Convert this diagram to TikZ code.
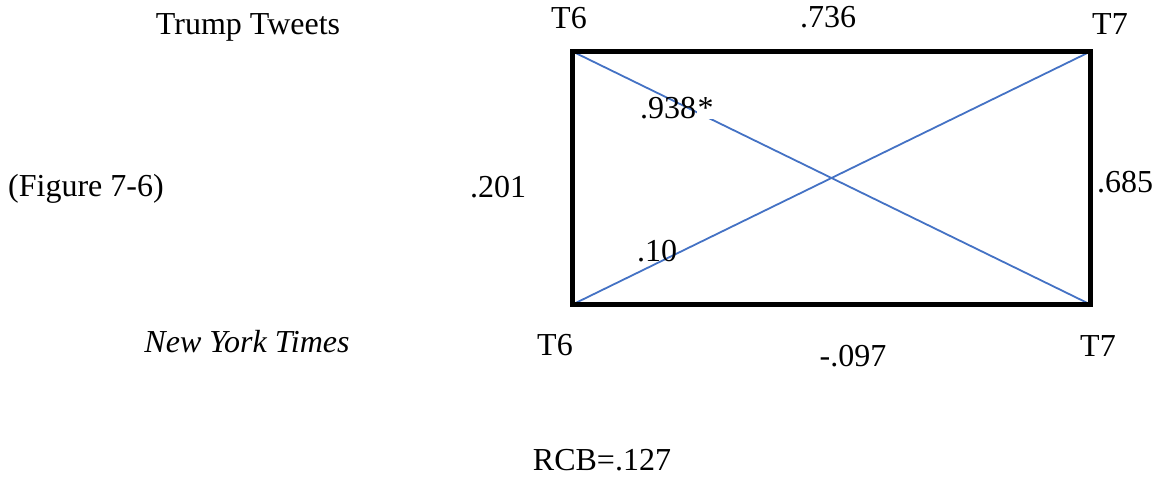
\documentclass[tikz,border=0pt]{standalone}
\usepackage{fontspec}
\setmainfont{Liberation Serif}
\definecolor{diagblue}{HTML}{4472C4}
\begin{document}
\begin{tikzpicture}[x=1pt,y=-1pt,
  lbl/.style={inner sep=0pt, anchor=base, font=\fontsize{32}{38}\selectfont},
  box/.style={draw=black, line width=5pt, line join=miter},
  diag/.style={draw=diagblue, line width=1.8pt}]
\useasboundingbox (0,0) rectangle (1168,486);
\coordinate (tl) at (572.5,51.5);
\coordinate (tr) at (1090.5,51.5);
\coordinate (bl) at (572.5,304.5);
\coordinate (br) at (1090.5,304.5);
\draw[diag] (tl) -- (br);
\draw[diag] (bl) -- (tr);
\draw[box] (tl) rectangle (br);
\node[lbl] (tt) at (248,35) {Trump Tweets};
\node[lbl] (t6a) at (569,29) {T6};
\node[lbl] (v736) at (828,28) {.736};
\node[lbl] (t7a) at (1110,35) {T7};
\node[lbl] (fig) at (86,197) {(Figure 7-6)};
\node[lbl] (v201) at (498,198) {.201};
\node[lbl, anchor=base west] (v685) at (1097,193) {.685};
\node[lbl, anchor=base west] (v938) at (640,119) {.938};
\node[lbl, anchor=base west, fill=white, inner xsep=1pt] (star) at (v938.base east) {*};
\node[lbl] (v10) at (657,262) {.10};
\node[lbl] (nyt) at (247,353) {\itshape New York Times};
\node[lbl] (t6b) at (555,356) {T6};
\node[lbl] (v097) at (853,367) {-.097};
\node[lbl] (t7b) at (1098,357) {T7};
\node[lbl] (rcb) at (602,470) {RCB=.127};
\end{tikzpicture}
\end{document}
